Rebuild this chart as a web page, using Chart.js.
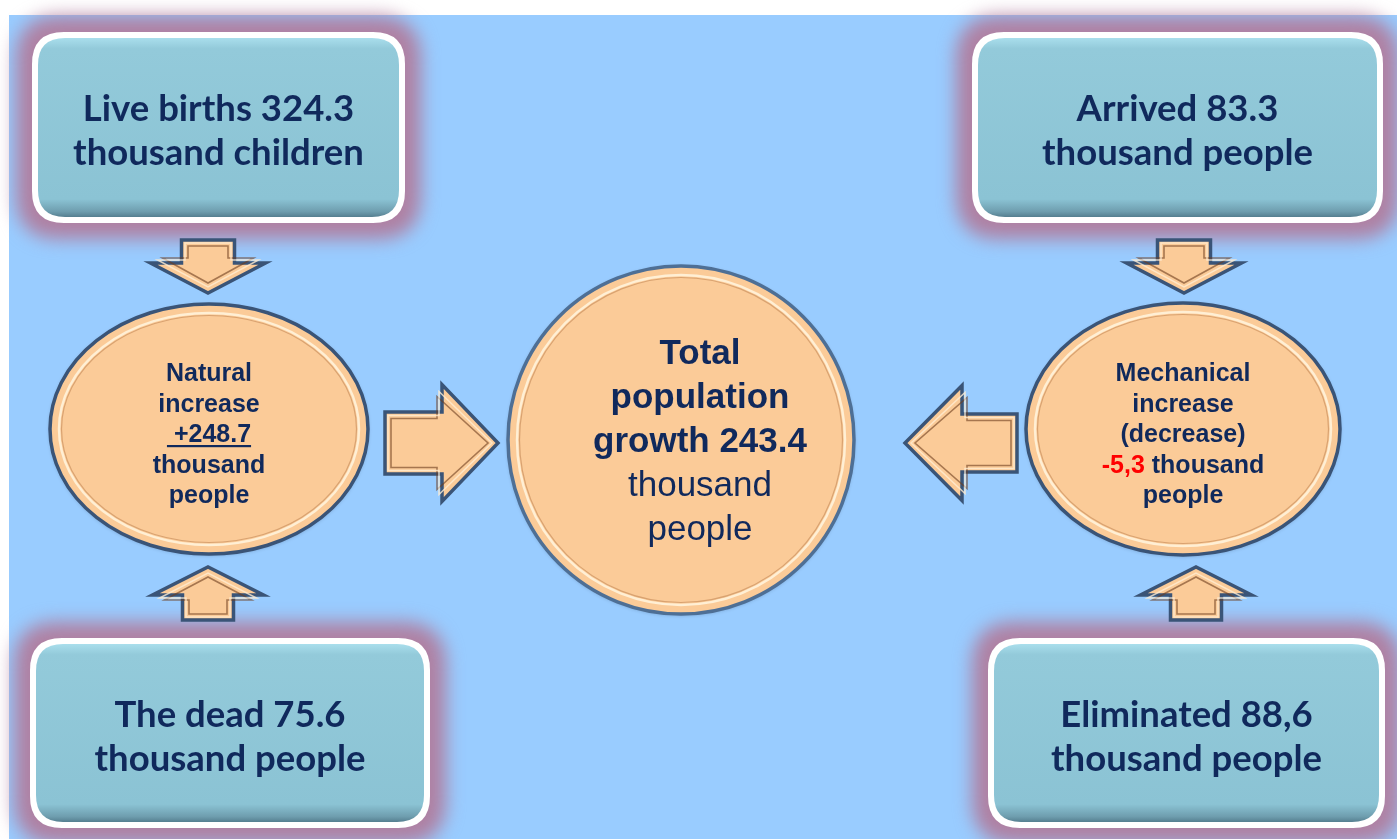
<!DOCTYPE html>
<html><head><meta charset="utf-8">
<script src="https://cdn.jsdelivr.net/npm/chart.js@4.4.0/dist/chart.umd.min.js"></script>
<style>html,body{margin:0;padding:0;background:#fff;overflow:hidden}#wrap{width:1397px;height:839px;position:relative}</style>
</head><body><div id="wrap"><canvas id="c"></canvas></div>
<script>
// ---------- DATA ----------
const categories = ['Live births', 'The dead', 'Arrived', 'Eliminated', 'Natural increase', 'Mechanical increase (decrease)', 'Total population growth'];
const values = [324.3, 75.6, 83.3, 88.6, 248.7, -5.3, 243.4];
const valueLabels = ['324.3', '75.6', '83.3', '88,6', '+248.7', '-5,3', '243.4'];
const units = ['thousand children', 'thousand people', 'thousand people', 'thousand people', 'thousand people', 'thousand people', 'thousand people'];

// ---------- LAYOUT (scale units) ----------
const W = 1397, H = 839;
const boxLayout = [
  {x: 32, y: 32, w: 373, h: 191},
  {x: 30, y: 638, w: 400, h: 190},
  {x: 972, y: 32, w: 411, h: 191},
  {x: 988, y: 638, w: 397, h: 190}
];
const ovalLayout = [
  {cx: 209, cy: 429, rx: 159, ry: 125, textDx: 0},
  {cx: 1183, cy: 429, rx: 157, ry: 126, textDx: 0},
  {cx: 681, cy: 440, rx: 173, ry: 174, textDx: 19}
];
const arrowLayout = [
  {tx: 208, ty: 293, dx: 0, dy: 1, len: 53, head: 30, sw: 53, hw: 115},
  {tx: 1184, ty: 293, dx: 0, dy: 1, len: 53, head: 30, sw: 53, hw: 115},
  {tx: 208, ty: 567, dx: 0, dy: -1, len: 53, head: 28, sw: 51, hw: 111},
  {tx: 1196, ty: 567, dx: 0, dy: -1, len: 53, head: 28, sw: 51, hw: 111},
  {tx: 498, ty: 443, dx: 1, dy: 0, len: 113, head: 56, sw: 62, hw: 117},
  {tx: 905, ty: 443, dx: -1, dy: 0, len: 112, head: 57, sw: 58, hw: 115}
];
const NAVY = '#10295C', RED = '#FF0000';
const boxFont = 'bold 36.5px Lato';
const ovalFont = 'bold 25px "Liberation Sans"';
const bigBold = 'bold 35px "Liberation Sans"', bigReg = '35px "Liberation Sans"';

const nodePoints = categories.map((c, i) => {
  if (i < 4) { const b = boxLayout[i]; return {x: b.x + b.w / 2, y: b.y + b.h / 2, v: values[i]}; }
  const o = ovalLayout[i - 4]; return {x: o.cx, y: o.cy, v: values[i]};
});

function rr(ctx, x, y, w, h, r) {
  ctx.beginPath();
  ctx.moveTo(x + r, y);
  ctx.lineTo(x + w - r, y); ctx.quadraticCurveTo(x + w, y, x + w, y + r);
  ctx.lineTo(x + w, y + h - r); ctx.quadraticCurveTo(x + w, y + h, x + w - r, y + h);
  ctx.lineTo(x + r, y + h); ctx.quadraticCurveTo(x, y + h, x, y + h - r);
  ctx.lineTo(x, y + r); ctx.quadraticCurveTo(x, y, x + r, y);
  ctx.closePath();
}
function arrowPath(ctx, X, Y, tx, ty, dx, dy, len, head, sw, hw) {
  const nx = -dy, ny = dx;
  const bx = tx - len * dx, by = ty - len * dy;
  const pts = [[0, -sw / 2], [len - head, -sw / 2], [len - head, -hw / 2], [len, 0], [len - head, hw / 2], [len - head, sw / 2], [0, sw / 2]];
  ctx.beginPath();
  pts.forEach(([u, v], k) => {
    const px = X(bx + u * dx + v * nx), py = Y(by + u * dy + v * ny);
    k ? ctx.lineTo(px, py) : ctx.moveTo(px, py);
  });
  ctx.closePath();
}
function drawLines(ctx, lines, cx, baselines) {
  ctx.textAlign = 'left'; ctx.textBaseline = 'alphabetic';
  lines.forEach((segs, k) => {
    let total = 0;
    segs.forEach(s => { ctx.font = s.font; s.w = ctx.measureText(s.t).width; total += s.w; });
    let x = cx - total / 2;
    segs.forEach(s => {
      ctx.font = s.font; ctx.fillStyle = s.color;
      ctx.fillText(s.t, x, baselines[k]);
      if (s.underline) { ctx.fillRect(x, baselines[k] + 3, s.w, 2.2); }
      x += s.w;
    });
  });
}

const diagramPlugin = {
  id: 'diagram',
  beforeDatasetsDraw(chart) {
    const {ctx, scales: {x, y}} = chart;
    const X = v => x.getPixelForValue(v), Y = v => y.getPixelForValue(v);
    const pts = chart.getDatasetMeta(0).data;
    ctx.save();
    ctx.fillStyle = '#FFFFFF'; ctx.fillRect(X(0), Y(0), X(W) - X(0), Y(H) - Y(0));
    ctx.fillStyle = '#99CCFF'; ctx.fillRect(X(9), Y(15), X(W) - X(9), Y(H) - Y(15));

    // boxes
    boxLayout.forEach((b, i) => {
      const bx = X(b.x), by = Y(b.y), bw = X(b.x + b.w) - bx, bh = Y(b.y + b.h) - by;
      ctx.save();
      ctx.filter = 'blur(9px)';
      ctx.fillStyle = 'rgba(176,124,158,0.95)';
      rr(ctx, bx - 16, by - 16, bw + 32, bh + 32, 44); ctx.fill();
      ctx.restore();
      ctx.fillStyle = '#FFFFFF';
      rr(ctx, bx, by, bw, bh, 32); ctx.fill();
      const g = ctx.createLinearGradient(0, by + 6, 0, by + bh - 6);
      g.addColorStop(0, '#A9DEEC'); g.addColorStop(0.06, '#93CADA'); g.addColorStop(0.9, '#8BC3D4');
      g.addColorStop(0.97, '#6E9DAE'); g.addColorStop(1, '#557F90');
      ctx.fillStyle = g;
      rr(ctx, bx + 6, by + 6, bw - 12, bh - 12, 27); ctx.fill();
      const p = pts[i];
      const lines = [[{t: categories[i] + ' ' + valueLabels[i], font: boxFont, color: NAVY}], [{t: units[i], font: boxFont, color: NAVY}]];
      const base = by + 89;
      drawLines(ctx, lines, p.x, [base, base + 44]);
    });

    // arrows
    arrowLayout.forEach(a => {
      ctx.lineJoin = 'miter';
      arrowPath(ctx, X, Y, a.tx, a.ty, a.dx, a.dy, a.len, a.head, a.sw, a.hw);
      ctx.fillStyle = '#FBCB98'; ctx.fill();
      ctx.strokeStyle = '#3A5477'; ctx.lineWidth = 3.5; ctx.stroke();
      arrowPath(ctx, X, Y, a.tx - 10 * a.dx, a.ty - 10 * a.dy, a.dx, a.dy, a.len - 16, a.head - 5, a.sw - 13, a.hw - 24);
      ctx.strokeStyle = 'rgba(110,62,30,0.6)'; ctx.lineWidth = 1.6; ctx.stroke();
      arrowPath(ctx, X, Y, a.tx - 6 * a.dx, a.ty - 6 * a.dy, a.dx, a.dy, a.len - 9, a.head - 3, a.sw - 7, a.hw - 14);
      ctx.strokeStyle = 'rgba(255,236,210,0.8)'; ctx.lineWidth = 1.5; ctx.stroke();
    });

    // ovals
    ovalLayout.forEach((o, k) => {
      const i = k + 4, p = pts[i];
      const cx = p.x, cy = p.y, rx = X(o.cx + o.rx) - X(o.cx), ry = Y(o.cy + o.ry) - Y(o.cy);
      ctx.save();
      ctx.shadowColor = 'rgba(30,50,80,0.35)'; ctx.shadowBlur = 4; ctx.shadowOffsetY = 1;
      ctx.beginPath(); ctx.ellipse(cx, cy, rx, ry, 0, 0, Math.PI * 2);
      ctx.fillStyle = '#FBCB98'; ctx.fill();
      ctx.restore();
      ctx.beginPath(); ctx.ellipse(cx, cy, rx, ry, 0, 0, Math.PI * 2);
      ctx.strokeStyle = k === 2 ? '#4E6F95' : '#3A5477'; ctx.lineWidth = 3.5; ctx.stroke();
      ctx.beginPath(); ctx.ellipse(cx, cy, rx - 9, ry - 9, 0, 0, Math.PI * 2);
      ctx.strokeStyle = 'rgba(255,240,215,0.95)'; ctx.lineWidth = 2.5; ctx.stroke();
      ctx.beginPath(); ctx.ellipse(cx, cy, rx - 11.5, ry - 11.5, 0, 0, Math.PI * 2);
      ctx.strokeStyle = 'rgba(190,130,80,0.55)'; ctx.lineWidth = 1.2; ctx.stroke();
    });

    // oval texts
    const nat = pts[4], mech = pts[5], tot = pts[6];
    const nb = Y(381);
    drawLines(ctx, [
      [{t: 'Natural', font: ovalFont, color: NAVY}],
      [{t: 'increase', font: ovalFont, color: NAVY}],
      [{t: ' ' + valueLabels[4], font: ovalFont, color: NAVY, underline: true}],
      [{t: 'thousand', font: ovalFont, color: NAVY}],
      [{t: 'people', font: ovalFont, color: NAVY}]
    ], nat.x + ovalLayout[0].textDx, [nb, nb + 30.5, nb + 61, nb + 91.5, nb + 122]);
    drawLines(ctx, [
      [{t: 'Mechanical', font: ovalFont, color: NAVY}],
      [{t: 'increase', font: ovalFont, color: NAVY}],
      [{t: '(decrease)', font: ovalFont, color: NAVY}],
      [{t: valueLabels[5], font: ovalFont, color: RED}, {t: ' thousand', font: ovalFont, color: NAVY}],
      [{t: 'people', font: ovalFont, color: NAVY}]
    ], mech.x + ovalLayout[1].textDx, [nb, nb + 30.5, nb + 61, nb + 91.5, nb + 122]);
    const tb = Y(364);
    drawLines(ctx, [
      [{t: 'Total', font: bigBold, color: NAVY}],
      [{t: 'population', font: bigBold, color: NAVY}],
      [{t: 'growth ' + valueLabels[6], font: bigBold, color: NAVY}],
      [{t: 'thousand', font: bigReg, color: NAVY}],
      [{t: 'people', font: bigReg, color: NAVY}]
    ], tot.x + ovalLayout[2].textDx, [tb, tb + 44, tb + 88, tb + 132, tb + 176]);
    ctx.restore();
  }
};

new Chart(document.getElementById('c'), {
  type: 'scatter',
  data: {datasets: [{label: 'nodes', data: nodePoints, pointRadius: 0, pointHoverRadius: 0}]},
  options: {
    responsive: true, maintainAspectRatio: false, animation: false,
    layout: {padding: 0},
    events: [],
    plugins: {legend: {display: false}, tooltip: {enabled: false}},
    scales: {
      x: {type: 'linear', min: 0, max: W, display: false},
      y: {type: 'linear', min: 0, max: H, reverse: true, display: false}
    }
  },
  plugins: [diagramPlugin]
});
</script></body></html>
